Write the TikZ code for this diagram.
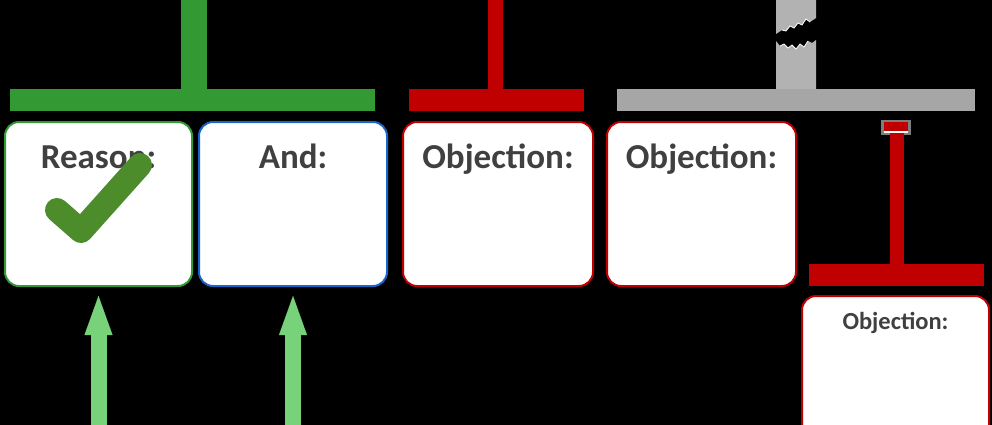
\documentclass[tikz,border=0pt]{standalone}
\usepackage{fontspec}
\setmainfont{Carlito}
\usetikzlibrary{arrows.meta}

\definecolor{barGreen}{RGB}{51,153,51}
\definecolor{tickGreen}{RGB}{76,140,42}
\definecolor{arrowGreen}{RGB}{120,210,122}
\definecolor{barRed}{RGB}{192,0,0}
\definecolor{boxBlue}{RGB}{24,102,204}
\definecolor{barGray}{RGB}{166,166,166}
\definecolor{stemGray}{RGB}{178,178,178}
\definecolor{textGray}{RGB}{64,64,64}

\tikzset{
    card/.style={draw=#1, line width=2pt, fill=white, rounded corners=14pt,
        minimum height=164pt, inner sep=0pt, anchor=north west},
    title/.style={font=\fontsize{#1}{#1}\selectfont\bfseries, text=textGray,
        anchor=base, inner sep=0pt},
    support/.style={-{Triangle[width=28pt, length=39pt, line width=0.01pt]},
        line width=16pt, arrowGreen},
    tick/.style={line width=24pt, line cap=round, line join=round, tickGreen},
}

% a T-shaped bracket: bar (x1, x2, top y) and stem (x1, x2, top y)
\newcommand{\bracket}[7]{%
    \fill[#1] (#2, #4) rectangle (#3, {#4 + 22});
    \fill[#1] (#5, #7) rectangle (#6, #4);}

\begin{document}
\begin{tikzpicture}[x=1pt, y=-1pt]
    \useasboundingbox (0, 0) rectangle (992, 425);
    \fill[black] (0, 0) rectangle (992, 425);

    % brackets above the cards
    \bracket{barGreen}{10}{375}{89}{181}{207}{0}
    \bracket{barRed}{409}{584}{89}{488}{503}{0}
    \fill[barGray] (617, 89) rectangle (975, 111);
    % broken gray stem
    \fill[stemGray] (776, 0) -- (816, 0) -- (816, 18) -- (810, 22) -- (806, 19)
        -- (802, 25) -- (798, 23) -- (794, 28) -- (790, 26) -- (786, 31)
        -- (782, 30) -- (776, 34) -- cycle;
    \fill[stemGray] (776, 89) -- (776, 41) -- (780, 46) -- (784, 44) -- (788, 48)
        -- (792, 45) -- (796, 49) -- (800, 44) -- (804, 47) -- (808, 41)
        -- (812, 43) -- (816, 40) -- (816, 89) -- cycle;
    \draw[white, line width=0.8pt] (782, 30) -- (786, 31) -- (790, 26)
        -- (794, 28) -- (798, 23) -- (802, 25) -- (806, 19) -- (810, 22);
    \draw[white, line width=0.8pt] (780, 46) -- (784, 44) -- (788, 48)
        -- (792, 45) -- (796, 49) -- (800, 44) -- (804, 47) -- (808, 41);

    % cards
    \foreach \name/\x/\w/\col/\txt in
        {reason/4/187/barGreen/Reason:, and/198/188/boxBlue/And:,
         objA/402/190/barRed/Objection:, objB/606/189/barRed/Objection:}{
        \node[card=\col, minimum width=\w pt] (\name) at (\x, 121) {};
        \node[title=35] (\name-title) at ([yshift=-47pt]\name.north) {\txt};
    }
    \draw[tick] (57, 210) -- (81, 231) -- (140, 165);

    % objection to the gray claim
    \fill[stemGray!70!black] (881, 120) rectangle (911, 135);
    \fill[barRed] (884, 122) rectangle (908, 131);
    \fill[white] (884, 131) rectangle (908, 133);
    \bracket{barRed}{809}{984}{264}{890}{904}{133}
    \node[card=barRed, minimum width=187pt] (objC) at (801, 295) {};
    \node[title=24.5] (objC-title) at ([yshift=-34pt]objC.north) {Objection:};

    % support arrows
    \coordinate (reasonfoot) at ([yshift=-150pt]reason.south);
    \coordinate (andfoot) at ([yshift=-150pt]and.south);
    \draw[support] (reasonfoot) -- ([yshift=-9pt]reason.south);
    \draw[support] (andfoot) -- ([yshift=-9pt]and.south);
\end{tikzpicture}
\end{document}
